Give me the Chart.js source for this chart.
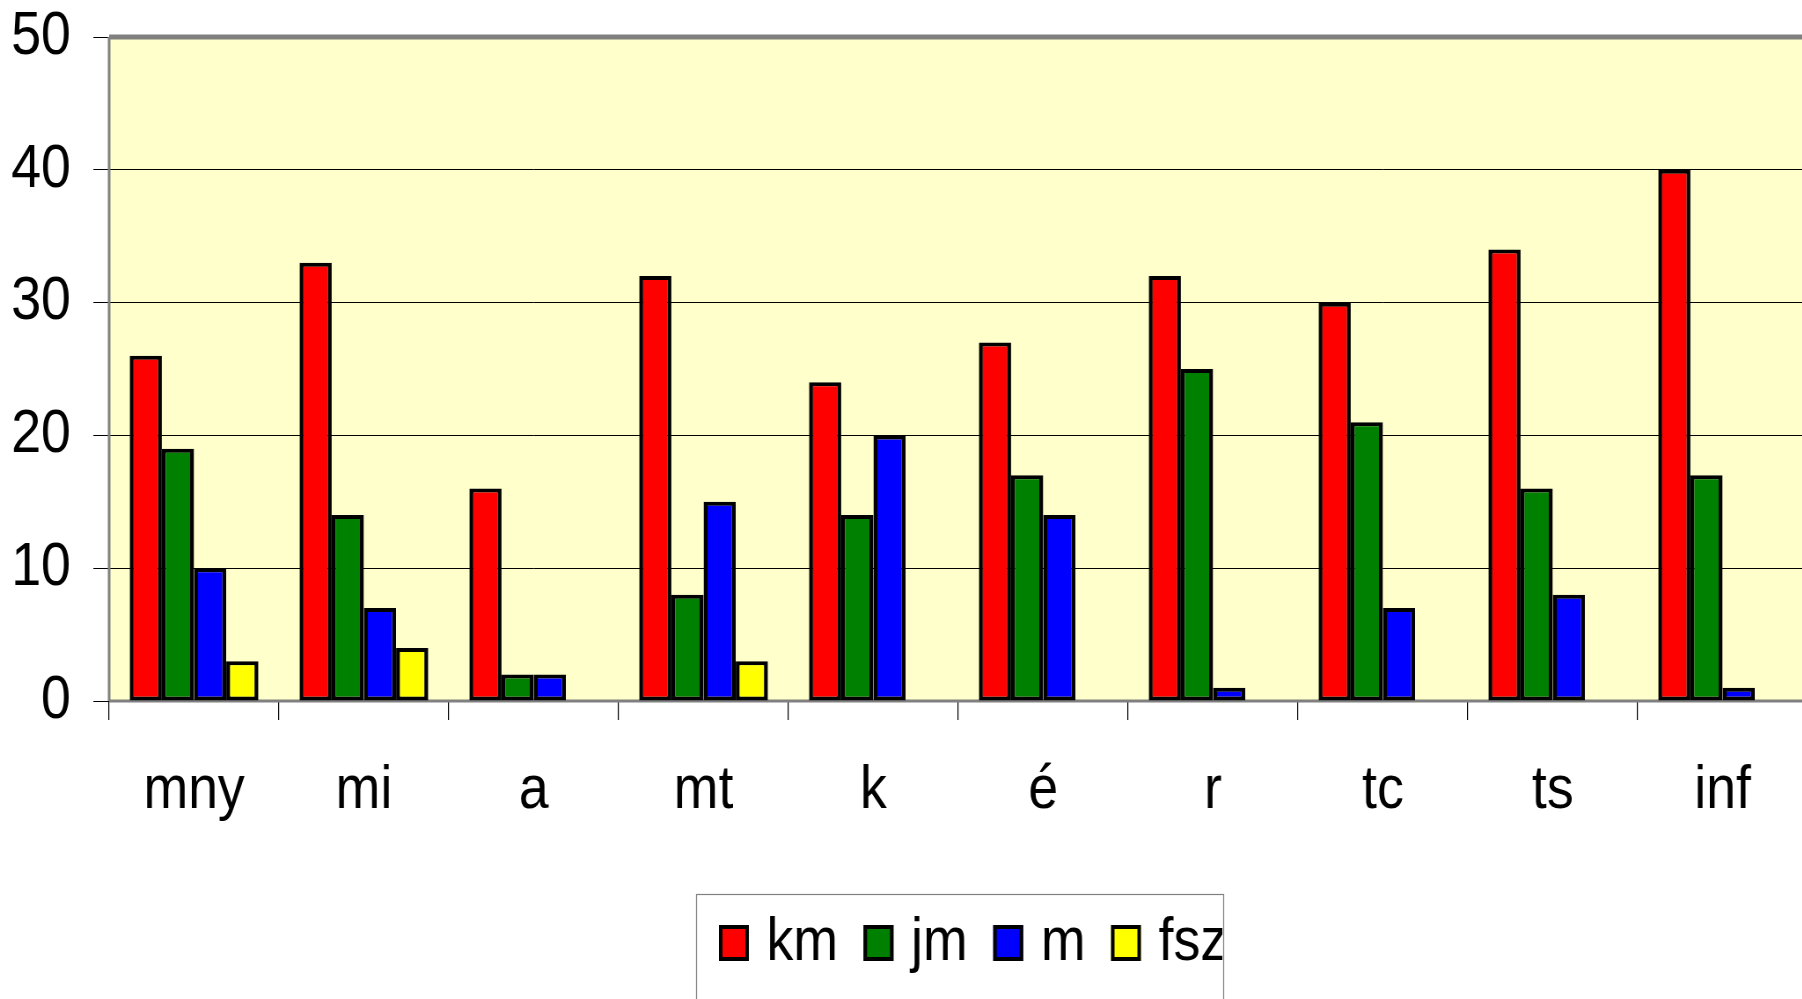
<!DOCTYPE html>
<html>
<head>
<meta charset="utf-8">
<script src="https://cdn.jsdelivr.net/npm/chart.js@4.4.0/dist/chart.umd.min.js"></script>
<style>
  html, body { margin: 0; padding: 0; background: #fff; overflow: hidden; width: 1802px; height: 999px; }
  #chart { display: block; transform-origin: 0 0; transform: scaleX(0.88); }
</style>
</head>
<body>
<canvas id="chart" width="2059" height="999"></canvas>
<script>
// DATA
const categories = ["mny", "mi", "a", "mt", "k", "é", "r", "tc", "ts", "inf"];
const kmValues  = [26, 33, 16, 32, 24, 27, 32, 30, 34, 40];
const jmValues  = [19, 14, 2, 8, 14, 17, 25, 21, 16, 17];
const mValues   = [10, 7, 2, 15, 20, 14, 1, 7, 8, 1];
const fszValues = [3, 4, 0, 3, 0, 0, 0, 0, 0, 0];
const yTicks = [0, 10, 20, 30, 40, 50];

// the original picture is squeezed sideways, so the canvas is drawn wider
// and scaled by 0.88 in CSS (x values below are canvas pixels)
const FONT = "'Liberation Sans', Arial, sans-serif";
const FONT_SIZE = 61;

// plot background + grey frame, like the old Excel chart
const plotArea = {
  id: "plotArea",
  beforeDraw(chart) {
    const { ctx, chartArea: a } = chart;
    ctx.save();
    ctx.fillStyle = "#FFFFCC";
    ctx.fillRect(a.left, a.top, a.right - a.left, a.bottom - a.top);
    ctx.restore();
  },
  beforeDatasetsDraw(chart) {
    const { ctx, chartArea: a } = chart;
    ctx.save();
    ctx.strokeStyle = "#808080";
    ctx.lineWidth = 5;
    ctx.beginPath(); ctx.moveTo(a.left, a.top); ctx.lineTo(a.right, a.top); ctx.stroke();
    ctx.lineWidth = 3;
    ctx.beginPath(); ctx.moveTo(a.left, a.bottom); ctx.lineTo(a.right, a.bottom); ctx.stroke();
    ctx.lineWidth = 3;
    ctx.beginPath(); ctx.moveTo(a.left, a.top); ctx.lineTo(a.left, a.bottom); ctx.stroke();
    ctx.restore();
  }
};

// boxed legend under the axis labels
const boxLegend = {
  id: "boxLegend",
  afterDraw(chart) {
    const ctx = chart.ctx;
    const box = { x: 791, y: 894, w: 599, h: 120 };
    ctx.save();
    ctx.fillStyle = "#fff";
    ctx.fillRect(box.x, box.y, box.w, box.h);
    ctx.strokeStyle = "#808080";
    ctx.lineWidth = 1.2;
    ctx.strokeRect(box.x + 0.5, box.y + 0.5, box.w, box.h);
    ctx.beginPath();
    ctx.rect(box.x + 1, box.y + 1, box.w - 2, box.h);
    ctx.clip();
    ctx.font = FONT_SIZE + "px " + FONT;
    ctx.textBaseline = "alphabetic";
    let x = 817;
    chart.data.datasets.forEach(ds => {
      ctx.fillStyle = ds.backgroundColor;
      ctx.fillRect(x, 925, 34, 36);
      ctx.strokeStyle = "#000";
      ctx.lineWidth = 4;
      ctx.strokeRect(x + 2, 927, 30, 32);
      ctx.fillStyle = "#000";
      ctx.fillText(ds.label, x + 54, 960);
      x += 54 + ctx.measureText(ds.label).width + 29;
    });
    ctx.restore();
  }
};

const barStyle = {
  borderColor: "#000",
  borderWidth: c => (c.raw ? { top: 4, bottom: 4, left: 4.5, right: 4.5 } : 0),
  borderSkipped: false,
  categoryPercentage: 0.758,
  barPercentage: 1
};

new Chart(document.getElementById("chart"), {
  type: "bar",
  data: {
    labels: categories,
    datasets: [
      { label: "km",  data: kmValues,  backgroundColor: "#FF0000", ...barStyle },
      { label: "jm",  data: jmValues,  backgroundColor: "#008000", ...barStyle },
      { label: "m",   data: mValues,   backgroundColor: "#0000FF", ...barStyle },
      { label: "fsz", data: fszValues, backgroundColor: "#FFFF00", ...barStyle }
    ]
  },
  options: {
    responsive: false,
    animation: false,
    devicePixelRatio: 1,
    layout: { padding: { top: 0, right: 5, bottom: 0, left: 0 } },
    plugins: {
      legend: { display: false },
      tooltip: { enabled: false }
    },
    scales: {
      x: {
        grid: { offset: true, drawOnChartArea: false, tickLength: 19, color: "#000", lineWidth: 1.2 },
        border: { display: false },
        ticks: { color: "#000", padding: 35, font: { family: FONT, size: FONT_SIZE }, maxRotation: 0 },
        afterFit: s => { s.height = 298; }
      },
      y: {
        min: 0,
        max: 50,
        afterBuildTicks: s => { s.ticks = yTicks.map(v => ({ value: v })); },
        grid: { color: "#000", lineWidth: 1, tickLength: 18 },
        border: { display: false },
        ticks: { color: "#000", padding: 25.5, font: { family: FONT, size: FONT_SIZE, lineHeight: 0.38 } },
        afterFit: s => { s.width = 124; }
      }
    }
  },
  plugins: [plotArea, boxLegend]
});
</script>
</body>
</html>
